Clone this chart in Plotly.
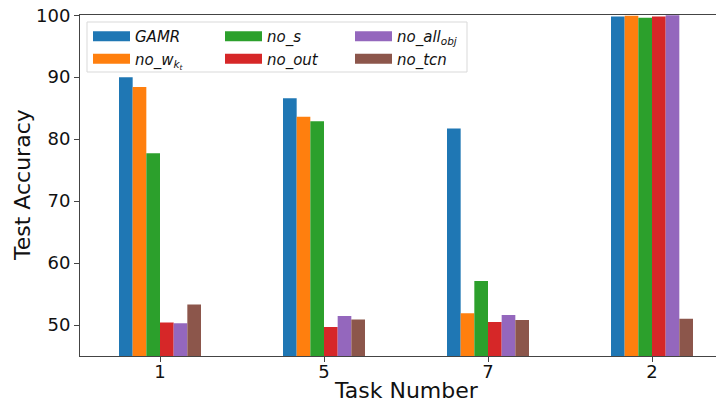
import plotly.graph_objects as go

tasks = ["1", "5", "7", "2"]
series_names = ["GAMR", "no_w_kt", "no_s", "no_out", "no_all_obj", "no_tcn"]
legend_labels = ["GAMR", "no_w<sub>k<sub>t</sub></sub>", "no_s", "no_out",
                 "no_all<sub>obj</sub>", "no_tcn"]
gamr = [90.0, 86.6, 81.7, 99.8]
no_w_kt = [88.4, 83.6, 51.9, 99.9]
no_s = [77.7, 82.9, 57.1, 99.6]
no_out = [50.4, 49.7, 50.5, 99.8]
no_all_obj = [50.3, 51.45, 51.6, 100.0]
no_tcn = [53.3, 50.9, 50.8, 51.0]
values = [gamr, no_w_kt, no_s, no_out, no_all_obj, no_tcn]
colors = ["#1f77b4", "#ff7f0e", "#2ca02c", "#d62728", "#9467bd", "#8c564b"]
legend_ids = ["legend", "legend", "legend2", "legend2", "legend3", "legend3"]
y_ticks = [50, 60, 70, 80, 90, 100]

fig = go.Figure()
for name, lab, vals, col in zip(series_names, legend_labels, values, colors):
    fig.add_trace(go.Bar(
        x=tasks, y=vals, name=lab, marker=dict(color=col, line=dict(width=0)),
        showlegend=False,
    ))
# legend entries drawn as wide patches (matplotlib-style)
for name, lab, col, lg in zip(series_names, legend_labels, colors, legend_ids):
    fig.add_trace(go.Scatter(
        x=[None], y=[None], mode="lines", name=lab,
        line=dict(color=col, width=10), legend=lg, hoverinfo="skip",
    ))

# body margin of the page is 8px: figure is offset by 8px
OFF = 8
W, H = 724 - OFF, 405 - OFF
ml, mr, mt, mb = 80 - OFF, 0, 15 - OFF, 405 - 356
pw = W - ml - mr
ph = H - mt - mb

def px_x(p):
    return (p - OFF - ml) / pw

def px_y(p):
    return (H + OFF - mb - p) / ph

legend_font = dict(family="DejaVu Sans", size=15, color="#111", style="italic")
common = dict(bgcolor="rgba(0,0,0,0)", borderwidth=0, font=legend_font,
              orientation="v", xanchor="left", yanchor="top", itemwidth=37,
              tracegroupgap=0)

fig.update_layout(
    width=W, height=H,
    margin=dict(l=ml, r=mr, t=mt, b=mb, autoexpand=False),
    plot_bgcolor="white", paper_bgcolor="white",
    barmode="group", bargap=0.5, bargroupgap=0,
    font=dict(family="DejaVu Sans", color="#111"),
    legend=dict(x=px_x(88), y=px_y(20), **common),
    legend2=dict(x=px_x(220), y=px_y(20), **common),
    legend3=dict(x=px_x(350), y=px_y(20), **common),
    xaxis=dict(
        type="category", categoryorder="array", categoryarray=tasks,
        range=[-80 / 164, -80 / 164 + pw / 164],
        showline=True, linecolor="#444", linewidth=1, mirror=True,
        ticks="outside", ticklen=5, tickcolor="#444",
        tickfont=dict(size=18, color="#111"), ticklabelstandoff=-6,
        showgrid=False, zeroline=False, automargin=False,
    ),
    yaxis=dict(
        range=[45, 100.03], tickvals=y_ticks,
        showline=True, linecolor="#444", linewidth=1,
        ticks="outside", ticklen=5, tickcolor="#444",
        tickfont=dict(size=18, color="#111"), ticklabeloverflow="allow",
        showgrid=False, zeroline=False, automargin=False,
    ),
    shapes=[dict(
        type="rect", xref="paper", yref="paper",
        x0=px_x(87), x1=px_x(467), y0=px_y(72), y1=px_y(22),
        line=dict(color="#d9d9d9", width=1), fillcolor="rgba(255,255,255,0.8)",
        layer="above",
    )],
    annotations=[
        dict(text="Task Number", xref="paper", yref="paper",
             x=px_x(406), y=px_y(391), xanchor="center", yanchor="middle",
             showarrow=False, font=dict(size=22, color="#111")),
        dict(text="Test Accuracy", xref="paper", yref="paper",
             x=px_x(22), y=px_y(185), xanchor="center", yanchor="middle",
             textangle=-90, showarrow=False, font=dict(size=22, color="#111")),
    ],
)

fig.write_html("out.html")
